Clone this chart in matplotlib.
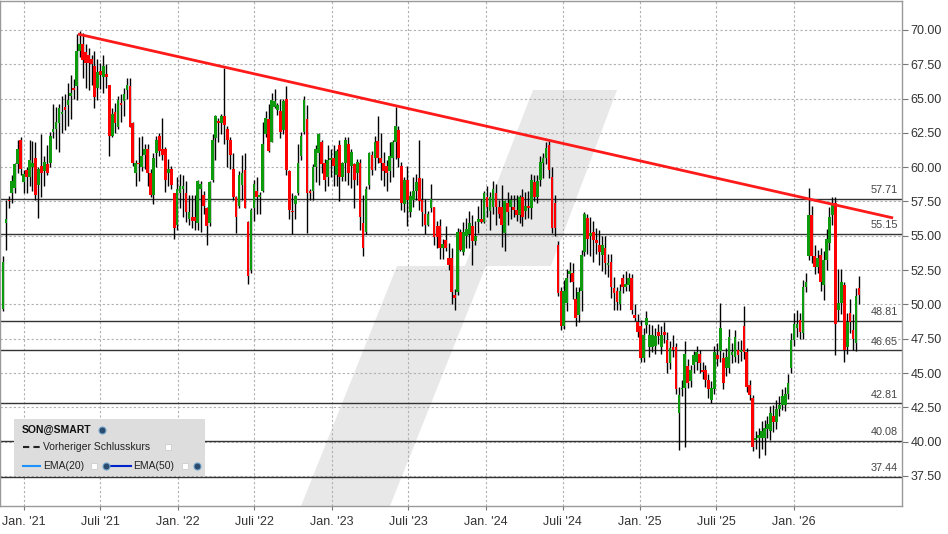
import matplotlib
matplotlib.use('Agg')
import matplotlib.pyplot as plt
import matplotlib.dates as mdates
from matplotlib.patches import Polygon, Rectangle
import numpy as np
import pandas as pd

plt.rcParams['font.family'] = ['Liberation Sans', 'DejaVu Sans']

# weekly candles (open, high, low, close)
ohlc_a = [  # Nov 2020 - May 2021
    (49.7, 53.5, 49.5, 53.1), (55.9, 57.6, 54.0, 56.2), (57.6, 57.9, 57.0, 57.5),
    (58.1, 59.4, 57.4, 59.0), (58.5, 60.3, 58.1, 60.2), (60.2, 62.0, 59.6, 61.3),
    (62.0, 62.2, 59.4, 59.9), (58.9, 59.8, 58.1, 59.5), (59.8, 60.0, 58.1, 59.3),
    (59.3, 62.0, 58.6, 60.5), (60.0, 61.9, 58.3, 60.3), (60.7, 61.8, 57.6, 58.0),
    (58.7, 60.0, 56.3, 59.9), (60.1, 62.4, 57.8, 59.6), (59.7, 60.8, 58.6, 60.4),
    (60.2, 61.6, 59.4, 59.6), (60.3, 62.6, 60.0, 62.3), (62.6, 64.6, 62.1, 62.8),
    (62.8, 64.4, 61.3, 63.3), (63.2, 64.6, 61.1, 64.3), (63.9, 65.2, 62.5, 64.0),
    (64.4, 65.3, 62.7, 64.2), (64.5, 66.1, 63.0, 64.9), (65.2, 66.7, 63.5, 65.4),
    (65.8, 66.4, 65.0, 65.6), (65.9, 69.7, 64.9, 68.5), (68.5, 69.9, 68.0, 69.0),
]
ohlc_b = [  # May 2021 - Nov 2021
    (69.0, 69.8, 66.5, 67.8), (68.4, 69.0, 65.8, 67.6), (68.2, 68.7, 65.6, 67.6),
    (67.9, 68.2, 66.0, 67.5), (67.4, 68.5, 64.3, 65.1), (65.8, 67.9, 64.9, 66.9),
    (67.0, 67.6, 65.7, 66.7), (66.6, 68.2, 65.4, 67.4), (66.8, 67.5, 65.8, 66.6),
    (66.0, 66.0, 60.8, 62.3), (62.3, 64.3, 62.2, 63.9), (64.0, 64.7, 62.5, 63.2),
    (62.9, 65.2, 62.8, 64.9), (64.7, 65.3, 63.3, 64.5), (64.8, 65.8, 63.7, 65.3),
    (65.6, 66.5, 65.0, 66.0), (65.9, 66.5, 62.9, 62.9), (63.2, 63.3, 60.1, 60.3),
    (59.6, 60.5, 58.6, 60.3), (60.3, 62.2, 59.0, 60.2), (60.0, 62.3, 59.7, 60.8),
    (60.9, 61.7, 59.9, 61.3), (61.3, 61.7, 58.6, 59.6), (59.6, 59.9, 57.8, 58.0),
    (58.0, 61.0, 57.3, 60.7),
]
ohlc_c = [  # Nov 2021 - May 2022
    (61.0, 62.3, 60.0, 62.0), (62.3, 62.5, 60.8, 61.2), (61.3, 63.6, 60.5, 60.9),
    (61.3, 61.5, 58.2, 59.1), (59.6, 60.6, 58.6, 59.9), (59.9, 60.1, 58.4, 58.7),
    (58.1, 58.1, 54.8, 55.6), (55.8, 59.3, 55.4, 58.4), (58.1, 59.5, 57.0, 58.6),
    (58.4, 59.4, 56.4, 58.6), (58.1, 59.0, 56.0, 56.7), (56.2, 58.0, 55.8, 56.7),
    (56.4, 58.0, 55.6, 56.1), (56.4, 58.0, 55.4, 56.1), (55.9, 59.1, 55.4, 59.0),
    (58.4, 59.0, 55.3, 58.8), (58.0, 58.3, 56.6, 57.2), (57.0, 57.1, 54.3, 55.7),
    (55.9, 59.0, 55.7, 58.9), (59.1, 62.4, 58.9, 62.0), (62.1, 63.8, 60.5, 63.7),
    (63.4, 63.6, 61.8, 63.2), (63.2, 63.9, 62.4, 63.7), (63.7, 67.2, 61.7, 63.1),
    (62.8, 63.0, 60.0, 62.0), (62.0, 62.2, 59.9, 60.9),
]
ohlc_d = [  # May 2022 - Nov 2022
    (59.9, 61.0, 57.6, 57.8), (57.8, 57.9, 55.2, 56.4), (57.2, 59.7, 57.0, 59.4),
    (58.7, 60.9, 57.6, 59.6), (59.8, 61.0, 57.0, 57.0), (56.0, 56.1, 51.5, 52.1),
    (52.5, 57.0, 52.3, 56.9), (57.0, 59.1, 56.1, 58.8), (58.3, 59.3, 56.6, 57.8),
    (57.8, 58.2, 56.6, 58.0), (58.3, 63.3, 58.2, 61.7), (62.4, 64.1, 62.2, 63.6),
    (63.5, 64.6, 61.1, 61.2), (61.8, 65.4, 61.8, 64.9), (64.4, 65.7, 64.3, 64.8),
    (64.2, 64.7, 63.8, 64.5), (64.1, 65.0, 62.1, 62.6), (62.7, 65.0, 62.4, 64.8),
    (65.0, 65.9, 59.4, 59.8), (59.7, 59.8, 56.2, 56.9), (56.8, 58.1, 55.1, 56.7),
    (57.3, 58.0, 56.2, 57.9), (58.1, 61.7, 58.0, 60.3), (60.8, 62.6, 60.5, 62.3),
    (62.6, 65.2, 62.4, 64.9),
]
ohlc_e = [  # Nov 2022 - May 2023
    (63.5, 64.5, 55.2, 58.1), (58.3, 58.4, 57.6, 58.1), (58.3, 60.2, 57.6, 60.0),
    (60.0, 61.6, 58.9, 61.3), (61.0, 62.5, 58.7, 62.4), (61.8, 62.0, 59.6, 60.2),
    (60.3, 60.6, 58.3, 59.1), (59.3, 61.6, 58.6, 60.5), (60.5, 61.3, 59.3, 60.7),
    (60.7, 61.6, 58.6, 60.1), (59.4, 61.3, 58.6, 61.2), (61.6, 62.0, 57.5, 59.3),
    (59.3, 60.4, 59.0, 60.3), (60.3, 62.2, 59.0, 62.0), (61.7, 62.2, 58.7, 59.6),
    (60.1, 61.3, 58.5, 61.1), (60.2, 60.3, 57.0, 59.1), (59.6, 60.6, 58.7, 60.4),
    (60.3, 60.6, 55.4, 56.4), (55.9, 58.0, 53.5, 54.1), (55.3, 58.6, 55.1, 58.4),
    (58.7, 61.1, 58.4, 61.0), (60.9, 61.2, 59.4, 59.8), (60.7, 62.3, 59.8, 61.8),
    (61.9, 63.7, 60.3, 60.7),
]
ohlc_f = [  # May 2023 - Nov 2023
    (60.7, 62.5, 59.1, 60.3), (60.3, 61.1, 58.6, 59.7), (60.1, 60.5, 58.3, 59.6),
    (59.7, 61.8, 58.9, 60.8), (60.7, 62.0, 59.3, 61.8), (61.8, 64.4, 60.6, 63.0),
    (62.7, 63.0, 60.0, 60.7), (60.1, 60.4, 56.9, 57.4), (57.3, 59.3, 56.7, 59.1),
    (59.1, 60.1, 55.7, 57.6), (56.7, 58.3, 56.4, 57.9), (57.6, 59.3, 57.1, 58.3),
    (58.3, 59.5, 57.6, 58.9), (59.2, 62.0, 56.9, 57.5), (57.6, 59.2, 55.7, 56.7),
    (56.6, 57.7, 55.1, 55.8), (55.8, 56.8, 55.7, 56.6), (57.0, 58.8, 56.7, 57.7),
    (57.1, 57.1, 54.3, 54.9), (55.7, 56.1, 54.1, 54.9), (55.7, 56.2, 53.3, 54.1),
    (54.1, 54.8, 53.3, 54.4), (54.7, 55.7, 53.9, 54.1), (53.4, 54.5, 52.5, 52.9),
    (53.4, 54.1, 50.0, 50.9),
]
ohlc_g = [  # Nov 2023 - May 2024
    (50.7, 51.1, 49.6, 50.5), (50.9, 55.6, 50.7, 55.3), (55.3, 55.5, 53.9, 54.0),
    (53.8, 56.0, 53.6, 55.3), (55.0, 56.3, 54.1, 55.5), (55.1, 56.8, 54.1, 55.9),
    (55.7, 56.5, 52.9, 54.6), (54.6, 56.1, 54.3, 55.0), (56.0, 57.2, 55.2, 56.2),
    (56.2, 57.7, 55.9, 56.0), (56.0, 58.3, 55.9, 58.1), (57.8, 58.6, 56.4, 57.1),
    (56.8, 58.2, 55.4, 57.8), (57.1, 59.0, 56.6, 58.4), (58.1, 58.8, 55.8, 57.1),
    (57.1, 57.6, 56.3, 56.6), (57.1, 58.7, 54.2, 55.8), (55.2, 57.6, 53.9, 57.5),
    (57.4, 58.2, 55.8, 56.7), (57.1, 58.0, 56.2, 57.6), (57.1, 58.0, 56.4, 56.9),
    (56.9, 58.0, 56.1, 56.5), (56.5, 58.0, 55.9, 57.8), (57.8, 58.4, 55.7, 56.4),
    (56.8, 58.2, 56.2, 57.2),
]
ohlc_h = [  # May 2024 - Dec 2024
    (57.2, 58.3, 56.3, 57.0), (57.0, 59.5, 56.2, 59.1), (58.9, 59.4, 57.5, 57.8),
    (57.8, 59.4, 57.4, 59.0), (59.1, 60.8, 58.6, 60.4), (60.3, 61.0, 59.2, 60.7),
    (60.7, 61.8, 60.2, 61.4), (61.6, 61.9, 59.2, 59.8), (59.3, 60.0, 55.2, 55.6),
    (57.4, 58.0, 55.0, 55.6), (54.3, 54.6, 50.6, 50.8), (51.0, 51.3, 48.1, 48.4),
    (48.4, 51.8, 48.2, 51.0), (50.1, 52.6, 49.5, 51.9), (52.2, 53.1, 51.6, 52.4),
    (52.3, 53.0, 50.4, 51.6), (50.4, 51.3, 48.4, 49.0), (49.2, 51.3, 48.7, 50.9),
    (51.0, 54.0, 49.5, 53.6), (53.8, 56.7, 53.5, 56.6), (56.3, 56.6, 53.7, 54.8),
    (55.0, 56.4, 53.5, 55.2), (55.3, 56.1, 53.1, 54.7), (54.7, 55.6, 53.7, 54.5),
    (54.3, 55.4, 52.9, 53.8), (53.6, 55.0, 52.4, 54.3), (54.1, 55.0, 52.2, 53.0),
    (52.9, 53.7, 52.0, 53.0), (53.1, 53.7, 50.5, 51.3), (51.2, 52.0, 49.6, 50.8),
    (51.0, 51.3, 49.6, 50.2),
]
ohlc_i = [  # Dec 2024 - Jun 2026
    (50.0, 51.5, 49.6, 51.0), (51.9, 52.2, 50.8, 51.3), (51.3, 52.4, 51.0, 51.5),
    (51.4, 52.3, 51.0, 51.9), (51.9, 52.2, 49.3, 49.6), (49.2, 50.0, 48.8, 49.0),
    (48.7, 49.3, 47.6, 48.0), (48.4, 48.9, 45.8, 46.1), (46.1, 48.3, 45.8, 47.8),
    (48.5, 49.5, 47.9, 49.0), (46.9, 48.6, 46.2, 47.8), (46.9, 48.5, 46.5, 47.8),
    (47.0, 48.3, 46.4, 47.7), (48.0, 48.6, 47.1, 47.7), (46.9, 48.4, 46.4, 47.8),
    (48.0, 48.7, 47.2, 47.8), (47.4, 48.0, 45.0, 45.7), (45.7, 47.3, 45.3, 46.8),
    (46.9, 47.8, 46.2, 46.7), (46.9, 47.2, 43.5, 43.8), (42.1, 44.0, 39.4, 43.4),
    (43.8, 44.5, 43.3, 43.9), (43.9, 47.3, 39.6, 46.4), (45.5, 46.0, 43.9, 44.3),
    (44.4, 45.6, 44.0, 45.2), (45.6, 46.6, 45.0, 46.3), (45.8, 47.0, 45.2, 46.5),
    (46.4, 46.7, 45.0, 45.7), (45.2, 45.8, 44.6, 45.1), (45.2, 45.6, 44.0, 44.5),
    (44.5, 44.9, 43.2, 43.8), (43.0, 44.4, 42.8, 43.9), (43.8, 47.0, 43.5, 46.5),
    (46.3, 47.2, 45.5, 46.0), (46.6, 50.1, 45.8, 48.3), (46.1, 46.5, 43.8, 44.3),
    (45.4, 46.8, 44.8, 46.2), (45.4, 48.2, 45.0, 47.6), (46.3, 47.2, 45.7, 46.5),
    (46.2, 48.1, 45.8, 47.6), (46.7, 47.3, 45.7, 46.3), (46.5, 47.4, 45.9, 46.7),
    (48.4, 49.9, 46.0, 46.5), (46.5, 46.8, 43.6, 44.0), (44.1, 44.5, 43.0, 43.4),
    (43.2, 43.4, 39.3, 39.6), (40.1, 40.8, 39.5, 40.3), (40.3, 41.0, 38.8, 40.5),
    (40.3, 41.5, 39.5, 40.8), (40.3, 41.6, 39.0, 41.0), (40.9, 41.9, 40.3, 41.3),
    (40.8, 42.6, 40.1, 42.1), (41.9, 42.7, 40.7, 41.4), (41.4, 43.0, 40.9, 42.4),
    (42.4, 43.3, 41.9, 42.7), (42.7, 43.8, 42.3, 43.3), (42.7, 44.0, 42.2, 43.5),
    (43.5, 44.9, 43.1, 44.3), (45.4, 47.9, 45.0, 47.4), (47.4, 49.4, 47.0, 48.6),
    (48.3, 49.6, 47.6, 48.6), (48.9, 49.4, 47.5, 48.0), (47.9, 51.8, 47.5, 51.3),
    (51.3, 52.3, 50.9, 51.6), (53.5, 58.5, 53.2, 56.5), (56.5, 57.2, 53.0, 53.5),
    (53.5, 54.3, 52.2, 52.7), (52.7, 54.0, 52.3, 53.4), (53.6, 54.1, 51.0, 51.6),
    (51.4, 53.9, 50.3, 53.2), (53.2, 55.5, 52.5, 54.8), (54.5, 57.1, 54.0, 56.4),
    (56.5, 57.8, 55.8, 57.4), (57.4, 57.8, 46.3, 48.6), (49.6, 52.6, 48.8, 50.1),
    (50.1, 52.6, 49.3, 51.6), (51.4, 51.6, 45.8, 46.7), (46.9, 49.4, 46.4, 48.7),
    (49.4, 50.4, 47.9, 48.7), (48.1, 49.3, 46.7, 47.5), (47.2, 51.2, 46.6, 50.6),
    (51.2, 52.1, 50.0, 50.7),
]

first_week = '2020-11-12'
levels = [57.71, 55.15, 48.81, 46.65, 42.81, 40.08, 37.44]
trend_dates = ['2021-05-09', '2026-08-24']
trend_prices = [69.7, 56.3]
price_ticks = [37.5, 40.0, 42.5, 45.0, 47.5, 50.0, 52.5, 55.0, 57.5, 60.0, 62.5, 65.0, 67.5, 70.0]
date_ticks = ['2021-01-01', '2021-07-01', '2022-01-01', '2022-07-01', '2023-01-01', '2023-07-01',
              '2024-01-01', '2024-07-01', '2025-01-01', '2025-07-01', '2026-01-01']
date_labels = ["Jan. '21", "Juli '21", "Jan. '22", "Juli '22", "Jan. '23", "Juli '23",
               "Jan. '24", "Juli '24", "Jan. '25", "Juli '25", "Jan. '26"]

candles = ohlc_a + ohlc_b + ohlc_c + ohlc_d + ohlc_e + ohlc_f + ohlc_g + ohlc_h + ohlc_i
dates = pd.date_range(first_week, periods=len(candles), freq='7D')
o, h, l, c = (np.array(v) for v in zip(*candles))

W, H = 948, 534
fig = plt.figure(figsize=(W / 100, H / 100), dpi=100)
ax = fig.add_axes([0.0, 28 / H, 902 / W, 505 / H])
ax.set_xlim(pd.Timestamp('2020-11-05'), pd.Timestamp('2026-09-14'))
ax.set_ylim(35.31, 72.11)


def px(x, y):
    # figure pixel (from top-left) -> axes fraction
    return (x / 902, (506 - y) / 505)


# watermark logo
wm = '#e8e8e8'
ax.add_patch(Polygon([px(533, 90), px(617, 90), px(551, 266), px(465, 266)],
                     closed=True, transform=ax.transAxes, color=wm, lw=0, zorder=0.2))
ax.add_patch(Polygon([px(397, 266), px(486, 266), px(390, 506), px(301, 506)],
                     closed=True, transform=ax.transAxes, color=wm, lw=0, zorder=0.2))

grid_kw = dict(color='#b0b0b0', lw=0.8, ls=(0, (2, 2)), zorder=0.5)
for p in price_ticks:
    ax.axhline(p, **grid_kw)
for d in date_ticks:
    ax.axvline(pd.Timestamp(d), **grid_kw)

for lv in levels:
    ax.axhline(lv, color='#333333', lw=1.0, zorder=2)
    ax.text(898 / 902, lv + 0.25, f'{lv:.2f}', transform=ax.get_yaxis_transform(),
            ha='right', va='bottom', fontsize=7.8, color='#444444', zorder=6)

up = c >= o
colors = np.where(up, '#0d9a0d', '#ff0000')
ax.vlines(dates, l, h, color='black', lw=1.0, zorder=3)
ax.bar(dates, np.maximum(np.abs(c - o), 0.12), bottom=np.minimum(o, c), width=6.4,
       color=colors, lw=0, zorder=4)

ax.plot(pd.to_datetime(trend_dates), trend_prices, color='#ff1a1a', lw=2.0, zorder=5,
        solid_capstyle='butt')

ax.yaxis.tick_right()
ax.set_yticks(price_ticks)
ax.set_yticklabels([f'{p:.2f}' for p in price_ticks])
ax.set_xticks(pd.to_datetime(date_ticks))
ax.set_xticklabels(date_labels)
ax.tick_params(axis='y', length=4, color='#777777', labelcolor='#333333', labelsize=9, pad=2)
ax.tick_params(axis='x', length=3, color='#777777', labelcolor='#333333', labelsize=9, pad=4)
for s in ax.spines.values():
    s.set_color('#999999')
    s.set_linewidth(1.0)

# legend box
ax.add_patch(Rectangle(px(14, 476), 191 / 902, 57 / 505, transform=ax.transAxes,
                       color='#dddddd', lw=0, zorder=7))
ax.text(*px(22, 430), 'SON@SMART', transform=ax.transAxes, fontsize=7.5, fontweight='bold',
        va='center', ha='left', color='#111111', zorder=8)
ax.text(*px(43, 447), 'Vorheriger Schlusskurs', transform=ax.transAxes, fontsize=7.5,
        va='center', ha='left', color='#222222', zorder=8)
ax.text(*px(43, 466), 'EMA(20)', transform=ax.transAxes, fontsize=7.5,
        va='center', ha='left', color='#222222', zorder=8)
ax.text(*px(133, 466), 'EMA(50)', transform=ax.transAxes, fontsize=7.5,
        va='center', ha='left', color='#222222', zorder=8)
x0, y0 = px(23, 447)
x1, _ = px(40, 447)
ax.plot([x0, x1], [y0, y0], transform=ax.transAxes, color='#222222', lw=1.5,
        ls=(0, (3, 2)), zorder=8)
x0, y0 = px(23, 466)
x1, _ = px(40, 466)
ax.plot([x0, x1], [y0, y0], transform=ax.transAxes, color='#1e90ff', lw=1.5, zorder=8)
x0, y0 = px(108, 466)
x1, _ = px(131, 466)
ax.plot([x0, x1], [y0, y0], transform=ax.transAxes, color='#0022cc', lw=1.5, zorder=8)
for bx, by in [(168, 447), (94, 466), (185, 466)]:
    ax.plot(*px(bx, by), marker='s', ms=4.5, mfc='white', mec='#cccccc', mew=0.6,
            transform=ax.transAxes, zorder=9)
for ix, iy in [(102, 430), (106, 466), (197, 466)]:
    ax.plot(*px(ix, iy), marker='o', ms=5, mfc='#2a4a6e', mec='#6fa0c8', mew=0.8,
            transform=ax.transAxes, zorder=9)

fig.savefig('out.png', dpi=100, facecolor='white')
